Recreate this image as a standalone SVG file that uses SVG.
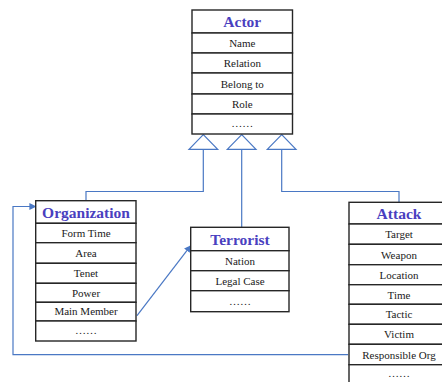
<svg xmlns="http://www.w3.org/2000/svg" width="442" height="382" viewBox="0 0 442 382">
<defs>
<style>
.row{fill:#fff;stroke:#262626;stroke-width:1.4}
.t{font-family:"Liberation Serif","Times New Roman",serif;font-size:15.5px;font-weight:bold;fill:#4a3fbf;text-anchor:middle}
.f{font-family:"Liberation Serif","Times New Roman",serif;font-size:11px;fill:#1a1a1a;text-anchor:middle}
.c{fill:none;stroke:#4a78c4;stroke-width:1.2}
.tri{fill:#fff;stroke:#4a78c4;stroke-width:1.2}
</style>
<marker id="ah" viewBox="0 0 10 10" refX="9" refY="5" markerWidth="7" markerHeight="7" orient="auto" markerUnits="userSpaceOnUse">
<path d="M0,0 L10,5 L0,10 z" fill="#4a78c4"/>
</marker>
</defs>
<rect width="442" height="382" fill="#fff"/>
<g id="connectors">
<path class="c" d="M203.3,149 V191.5 H86 V200.7"/>
<path class="c" d="M241.7,149 V227.3"/>
<path class="c" d="M281.7,149 V191.5 H399 V202.3"/>
<path class="c" d="M137,315.7 L190.7,245.7" marker-end="url(#ah)"/>
<path class="c" d="M348,354.7 H13 V206.5 H35.7" marker-end="url(#ah)"/>
<polygon class="tri" points="203.3,134.7 189,149.3 217.7,149.3"/>
<polygon class="tri" points="241.7,134.7 227.3,149.3 256,149.3"/>
<polygon class="tri" points="281.7,134.7 267.3,149.3 296,149.3"/>
</g>
<g id="actor">
<rect class="row" x="192" y="10" width="100.5" height="23"/>
<rect class="row" x="192" y="33" width="100.5" height="20"/>
<rect class="row" x="192" y="53" width="100.5" height="20"/>
<rect class="row" x="192" y="73" width="100.5" height="21"/>
<rect class="row" x="192" y="94" width="100.5" height="20"/>
<rect class="row" x="192" y="114" width="100.5" height="20"/>
<text class="t" x="242.3" y="27">Actor</text>
<text class="f" x="242.3" y="47">Name</text>
<text class="f" x="242.3" y="67">Relation</text>
<text class="f" x="242.3" y="87.5">Belong to</text>
<text class="f" x="242.3" y="108">Role</text>
<text class="f" x="242.3" y="127">……</text>
</g>
<g id="organization">
<rect class="row" x="35.7" y="200.7" width="100.3" height="22.6"/>
<rect class="row" x="35.7" y="223.3" width="100.3" height="19.4"/>
<rect class="row" x="35.7" y="242.7" width="100.3" height="20.6"/>
<rect class="row" x="35.7" y="263.3" width="100.3" height="20"/>
<rect class="row" x="35.7" y="283.3" width="100.3" height="19"/>
<rect class="row" x="35.7" y="302.3" width="100.3" height="18.7"/>
<rect class="row" x="35.7" y="321" width="100.3" height="20"/>
<text class="t" x="86" y="217.5">Organization</text>
<text class="f" x="86" y="237">Form Time</text>
<text class="f" x="86" y="257">Area</text>
<text class="f" x="86" y="277">Tenet</text>
<text class="f" x="86" y="296.5">Power</text>
<text class="f" x="86" y="315">Main Member</text>
<text class="f" x="86" y="334">……</text>
</g>
<g id="terrorist">
<rect class="row" x="190.7" y="227.3" width="98.3" height="23.4"/>
<rect class="row" x="190.7" y="250.7" width="98.3" height="20"/>
<rect class="row" x="190.7" y="270.7" width="98.3" height="20"/>
<rect class="row" x="190.7" y="290.7" width="98.3" height="21"/>
<text class="t" x="240" y="244.5">Terrorist</text>
<text class="f" x="240" y="264.5">Nation</text>
<text class="f" x="240" y="284.5">Legal Case</text>
<text class="f" x="240" y="304.5">……</text>
</g>
<g id="attack">
<rect class="row" x="349" y="202.3" width="100" height="21.7"/>
<rect class="row" x="349" y="224" width="100" height="20.3"/>
<rect class="row" x="349" y="244.3" width="100" height="20.4"/>
<rect class="row" x="349" y="264.7" width="100" height="20"/>
<rect class="row" x="349" y="284.7" width="100" height="19.6"/>
<rect class="row" x="349" y="304.3" width="100" height="20"/>
<rect class="row" x="349" y="324.3" width="100" height="20"/>
<rect class="row" x="349" y="344.3" width="100" height="20.4"/>
<rect class="row" x="349" y="364.7" width="100" height="22"/>
<text class="t" x="399" y="218.5">Attack</text>
<text class="f" x="399" y="238">Target</text>
<text class="f" x="399" y="258.5">Weapon</text>
<text class="f" x="399" y="278.5">Location</text>
<text class="f" x="399" y="298.5">Time</text>
<text class="f" x="399" y="318">Tactic</text>
<text class="f" x="399" y="338">Victim</text>
<text class="f" x="399" y="358.5">Responsible Org</text>
<text class="f" x="399" y="377">……</text>
</g>
</svg>
